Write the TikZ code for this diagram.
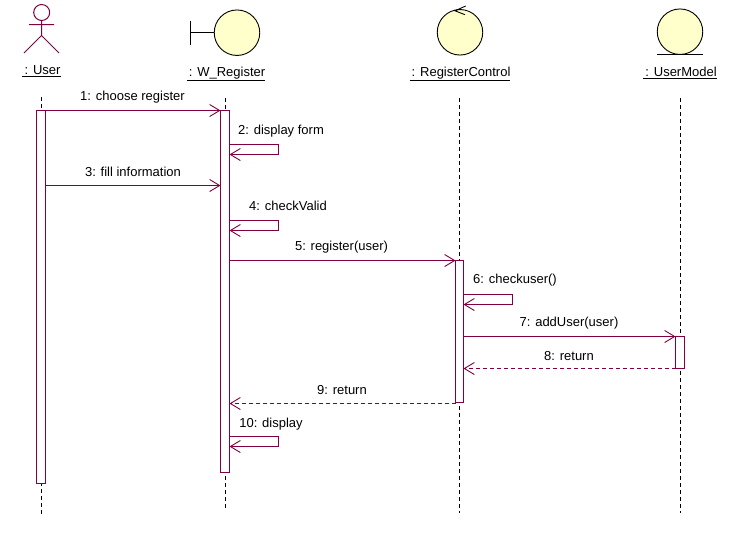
\documentclass[tikz,border=0pt]{standalone}
\usepackage{fontspec}
\setmainfont{Liberation Sans}
\usetikzlibrary{arrows.meta}
\definecolor{umlline}{RGB}{128,0,64}
\definecolor{umlfill}{RGB}{255,255,203}
\tikzset{
  lifeline/.style={draw=black,line width=1pt,dash pattern=on 3.5pt off 3.5pt},
  actbox/.style={draw=umlline,fill=white,line width=1pt,minimum width=9pt,inner sep=0pt,outer sep=0pt,anchor=north},
  msg/.style={draw=umlline,line width=1pt,-{Straight Barb[length=10pt,width=12pt,line width=0.9pt]}},
  retmsg/.style={msg,dash pattern=on 4pt off 3pt},
  lbl/.style={font=\fontsize{13}{15}\selectfont,text=black,inner sep=0pt},
  objlbl/.style={lbl,inner sep=0pt},
  icon/.style={draw=black,line width=0.9pt},
  ball/.style={icon,fill=umlfill,circle,minimum size=45.5pt,inner sep=0pt,outer sep=0pt},
}
\begin{document}
\begin{tikzpicture}[x=1pt,y=-1pt]
\useasboundingbox (0,0) rectangle (742,533);
\fill[white] (0,0) rectangle (742,533);

% actor
\node[draw=umlline,line width=1pt,circle,minimum size=16pt,inner sep=0pt,outer sep=0pt] (uhead) at (41.7,12.5) {};
\coordinate (uhip) at (41.5,35.5);
\coordinate (ularm) at (29,24.5);
\coordinate (urarm) at (54,24.5);
\coordinate (ulleg) at (24,53);
\coordinate (urleg) at (59,53);
\draw[umlline,line width=1pt] (uhead.south) -- (uhip) (ularm) -- (urarm) (ulleg) -- (uhip) -- (urleg);

% boundary
\node[ball] (bnd) at (237,32.7) {};
\coordinate (bbar1) at (190.5,21);
\coordinate (bbar2) at (190.5,44.5);
\coordinate (bbarm) at (190.5,32.7);
\draw[icon] (bbar1) -- (bbar2) (bbarm) -- (bnd.west);

% control
\node[ball] (ctl) at (460,32.3) {};
\coordinate (ca1) at (465.7,6);
\coordinate (ca2) at (465,14.7);
\draw[icon] (ca1) -- (455,10.8) -- (ca2);

% entity
\node[ball] (ent) at (680,31.7) {};
\coordinate (eb1) at (657,54.4);
\coordinate (eb2) at (703,54.4);
\draw[icon] (eb1) -- (eb2);

% object names
\node[objlbl] (nU) at (41.5,71) {\underline{\,: User}};
\node[objlbl] (nW) at (226,74) {\underline{\,: W\_Register}};
\node[objlbl] (nR) at (460,74) {\underline{\,: RegisterControl}};
\node[objlbl] (nM) at (680,73) {\underline{\,: UserModel}};

% lifeline ends
\coordinate (lU1) at (41.5,97);   \coordinate (lU2) at (41.5,514);
\coordinate (lW1) at (225.5,98);  \coordinate (lW2) at (225.5,511);
\coordinate (lR1) at (459.5,98);  \coordinate (lR2) at (459.5,513);
\coordinate (lM1) at (680.5,98);  \coordinate (lM2) at (680.5,513);
\draw[lifeline] (lU1) -- (lU2);
\draw[lifeline] (lW1) -- (lW2);
\draw[lifeline] (lR1) -- (lR2);
\draw[lifeline] (lM1) -- (lM2);

% activations
\node[actbox,minimum height=373pt] (aU) at (41,110.5) {};
\node[actbox,minimum height=362pt] (aW) at (225,110.5) {};
\node[actbox,minimum width=8pt,minimum height=142pt] (aR) at (459.5,260.5) {};
\node[actbox,minimum height=32pt]  (aM) at (680,336.5) {};

% messages
\coordinate (m1a) at (45.5,110.5);  \coordinate (m1b) at (220.5,110.5);
\draw[msg] (m1a) -- (m1b);
\coordinate (m3a) at (45.5,185.5);  \coordinate (m3b) at (220.5,185.5);
\draw[msg] (m3a) -- (m3b);
\coordinate (m5a) at (229.5,260.5); \coordinate (m5b) at (455.5,260.5);
\draw[msg] (m5a) -- (m5b);
\coordinate (m7a) at (463.5,336.5); \coordinate (m7b) at (675.5,336.5);
\draw[msg] (m7a) -- (m7b);
\coordinate (m8a) at (675.5,368.5); \coordinate (m8b) at (463.5,368.5);
\draw[retmsg] (m8a) -- (m8b);
\coordinate (m9a) at (455.5,403.5); \coordinate (m9b) at (229.5,403.5);
\draw[retmsg] (m9a) -- (m9b);

% self messages
\coordinate (s2a) at (229.5,144.5); \coordinate (s2b) at (278.5,144.5); \coordinate (s2c) at (278.5,154.5); \coordinate (s2d) at (229.5,154.5);
\draw[msg] (s2a) -- (s2b) -- (s2c) -- (s2d);
\coordinate (s4a) at (229.5,220.5); \coordinate (s4b) at (278.5,220.5); \coordinate (s4c) at (278.5,230.5); \coordinate (s4d) at (229.5,230.5);
\draw[msg] (s4a) -- (s4b) -- (s4c) -- (s4d);
\coordinate (s6a) at (463.5,294.5); \coordinate (s6b) at (512.5,294.5); \coordinate (s6c) at (512.5,304.5); \coordinate (s6d) at (463.5,304.5);
\draw[msg] (s6a) -- (s6b) -- (s6c) -- (s6d);
\coordinate (s10a) at (229.5,436.5); \coordinate (s10b) at (278.5,436.5); \coordinate (s10c) at (278.5,446.5); \coordinate (s10d) at (229.5,446.5);
\draw[msg] (s10a) -- (s10b) -- (s10c) -- (s10d);

% message labels
\node[lbl] (t1) at (132.5,97) {1: choose register};
\node[lbl] (t2) at (281,131) {2: display form};
\node[lbl] (t3) at (133,172) {3: fill information};
\node[lbl] (t4) at (288,206) {4: checkValid};
\node[lbl] (t5) at (341.5,247) {5: register(user)};
\node[lbl] (t6) at (515,280) {6: checkuser()};
\node[lbl] (t7) at (569,323) {7: addUser(user)};
\node[lbl] (t8) at (569,356) {8: return};
\node[lbl] (t9) at (342,390) {9: return};
\node[lbl] (t10) at (271,424) {10: display};
\end{tikzpicture}
\end{document}
